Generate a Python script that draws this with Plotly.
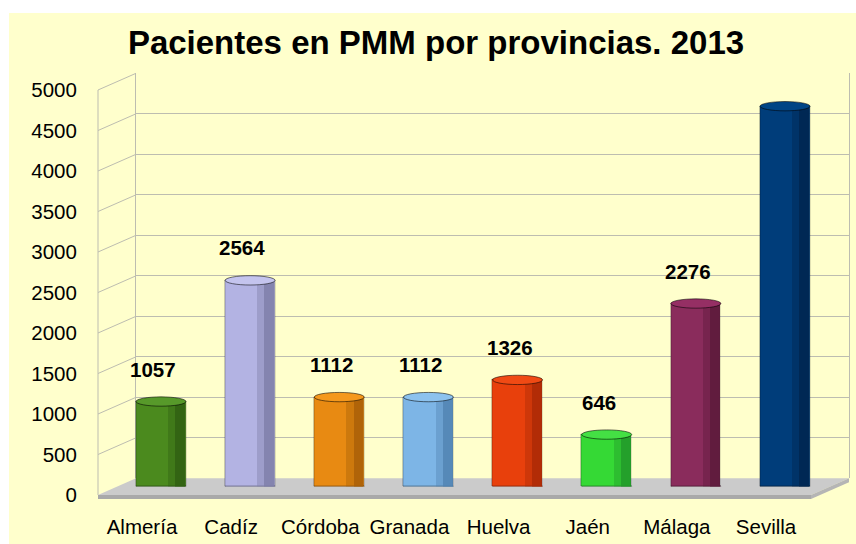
import plotly.graph_objects as go

# ---- data ----
provincias = ["Almería", "Cadíz", "Córdoba", "Granada", "Huelva", "Jaén", "Málaga", "Sevilla"]
pacientes = [1057, 2564, 1112, 1112, 1326, 646, 2276, 4730]
etiquetas = ["1057", "2564", "1112", "1112", "1326", "646", "2276", ""]
colores = ["#4B8A1E", "#B3B3E3", "#E88A12", "#7DB5E6", "#E8400C", "#35D935", "#8A2C5C", "#003D7A"]
sombras = ["#2F5E12", "#7C7CA6", "#A55E08", "#4F82B0", "#A82A06", "#22952A", "#5A1A3A", "#00264E"]
tapas = ["#57992A", "#C4C4EE", "#F5981C", "#8CC2EE", "#F04A14", "#44E044", "#952F64", "#004485"]
yticks = [0, 500, 1000, 1500, 2000, 2500, 3000, 3500, 4000, 4500, 5000]
titulo = "Pacientes en PMM por provincias. 2013"

W, H = 856, 544
def px(x):
    return x / W
def py(y):
    return 1 - y / H

YEL = "#FFFFCC"
GRID = "#BDBDB0"
FONT = "Liberation Sans, Arial, sans-serif"

# geometry (pixels)
BACK_L, BACK_R, BACK_TOP, BACK_BOT = 136, 849, 73.3, 478.3
FRONT_L, FRONT_R, FRONT_TOP, FRONT_BOT = 98, 811, 90, 495
BAR_L, BAR_R, BAR_TOP, BAR_BOT = 116.4, 829.6, 84.5, 486.5
YMAX = 5000
BW = 0.56          # bar width (category units)
CAP = 58           # half height of cylinder caps (data units)

fig = go.Figure()

# back wall subplot (gridlines)
fig.add_trace(go.Scatter(x=[], y=[], xaxis="x", yaxis="y", showlegend=False, hoverinfo="skip"))

# bars subplot (cylinders)
fig.add_trace(go.Bar(x=provincias, y=pacientes, xaxis="x2", yaxis="y2",
                     marker=dict(color=colores, line=dict(color="rgba(0,0,0,0.3)", width=1)),
                     width=BW, offset=-BW / 2, showlegend=False))
fig.add_trace(go.Bar(x=provincias, y=pacientes, xaxis="x2", yaxis="y2",
                     marker=dict(color=sombras, opacity=0.4, line=dict(width=0)),
                     width=0.19, offset=0.085, showlegend=False))
fig.add_trace(go.Bar(x=provincias, y=pacientes, xaxis="x2", yaxis="y2",
                     marker=dict(color=sombras, opacity=0.75, line=dict(width=0)),
                     width=0.11, offset=0.165, showlegend=False))

shapes = []
# white outer border strips
shapes.append(dict(type="rect", xref="paper", yref="paper", x0=0, x1=1, y0=py(13), y1=1,
                   fillcolor="white", line=dict(width=0), layer="below"))
shapes.append(dict(type="rect", xref="paper", yref="paper", x0=0, x1=px(9), y0=0, y1=1,
                   fillcolor="white", line=dict(width=0), layer="below"))
# left side wall lines
scale_f = (FRONT_BOT - FRONT_TOP) / YMAX
scale_b = (BACK_BOT - BACK_TOP) / YMAX
for v in yticks[1:]:
    shapes.append(dict(type="line", xref="paper", yref="paper",
                       x0=px(FRONT_L), y0=py(FRONT_BOT - v * scale_f),
                       x1=px(BACK_L), y1=py(BACK_BOT - v * scale_b),
                       line=dict(color=GRID, width=1), layer="below"))
shapes.append(dict(type="line", xref="paper", yref="paper",
                   x0=px(FRONT_L), y0=py(FRONT_TOP), x1=px(FRONT_L), y1=py(FRONT_BOT),
                   line=dict(color=GRID, width=1), layer="below"))
# floor
def path(pts):
    return "M " + " L ".join(f"{px(a):.5f},{py(b):.5f}" for a, b in pts) + " Z"
shapes.append(dict(type="path", xref="paper", yref="paper",
                   path=path([(FRONT_L, FRONT_BOT), (BACK_L, BACK_BOT), (BACK_R, BACK_BOT), (FRONT_R, FRONT_BOT)]),
                   fillcolor="#CBCBCB", line=dict(width=0), layer="below"))
shapes.append(dict(type="path", xref="paper", yref="paper",
                   path=path([(FRONT_L, FRONT_BOT), (FRONT_R, FRONT_BOT), (FRONT_R, FRONT_BOT + 4), (FRONT_L, FRONT_BOT + 4)]),
                   fillcolor="#A9A9A9", line=dict(width=0), layer="below"))
shapes.append(dict(type="path", xref="paper", yref="paper",
                   path=path([(FRONT_R, FRONT_BOT), (BACK_R, BACK_BOT), (BACK_R, BACK_BOT + 4), (FRONT_R, FRONT_BOT + 4)]),
                   fillcolor="#B5B5B5", line=dict(width=0), layer="below"))

# cylinder caps (bottom and top ellipses), positioned from the data
for i, (v, c, s, t) in enumerate(zip(pacientes, colores, sombras, tapas)):
    shapes.append(dict(type="circle", xref="x2", yref="y2",
                       x0=i - BW / 2, x1=i + BW / 2, y0=-CAP, y1=CAP,
                       fillcolor=s, line=dict(color="rgba(0,0,0,0.3)", width=1), layer="below"))
    shapes.append(dict(type="circle", xref="x2", yref="y2",
                       x0=i - BW / 2, x1=i + BW / 2, y0=v - CAP, y1=v + CAP,
                       fillcolor=t, line=dict(color="rgba(0,0,0,0.55)", width=1), layer="above"))

annotations = []
for p, v, t in zip(provincias, pacientes, etiquetas):
    if t:
        annotations.append(dict(x=p, y=v, xref="x2", yref="y2", text=t, showarrow=False,
                                yanchor="bottom", yshift=19, xshift=-8,
                                font=dict(family=FONT, size=20.5, color="black", weight="bold")))

fig.update_layout(
    width=W, height=H,
    margin=dict(l=0, r=0, t=0, b=0, autoexpand=False),
    paper_bgcolor=YEL, plot_bgcolor="rgba(0,0,0,0)",
    barmode="overlay", bargap=0,
    font=dict(family=FONT, size=20.5, color="black"),
    title=dict(text=titulo, x=px(436), xref="paper", xanchor="center",
               y=py(42), yref="container", yanchor="middle",
               font=dict(family=FONT, size=33, color="black", weight="bold")),
    xaxis=dict(domain=[px(BACK_L), px(BACK_R)], range=[0, 1], showgrid=False, zeroline=False,
               showticklabels=False, showline=False, fixedrange=True),
    yaxis=dict(domain=[py(BACK_BOT), py(BACK_TOP)], range=[0, YMAX], tickvals=yticks,
               showgrid=True, gridcolor=GRID, gridwidth=1, zeroline=False,
               showline=True, linecolor=GRID, mirror=True, ticks="",
               ticklabelshift=int(round(FRONT_BOT - BACK_BOT)), ticklabelstandoff=54,
               tickfont=dict(family=FONT, size=20.5, color="black")),
    xaxis2=dict(domain=[px(BAR_L), px(BAR_R)], anchor="y2", type="category", range=[-0.5, 7.5],
                showgrid=False, zeroline=False, showline=False, ticks="",
                ticklabelshift=-19, ticklabelstandoff=26,
                tickfont=dict(family=FONT, size=20.5, color="black")),
    yaxis2=dict(domain=[py(BAR_BOT), py(BAR_TOP)], anchor="x2", range=[0, YMAX],
                showgrid=False, zeroline=False, showline=False, showticklabels=False),
    shapes=shapes, annotations=annotations,
)

fig.write_html("out.html", config={"displayModeBar": False},
               post_script="document.body.style.margin='0';document.body.style.overflow='hidden';")
